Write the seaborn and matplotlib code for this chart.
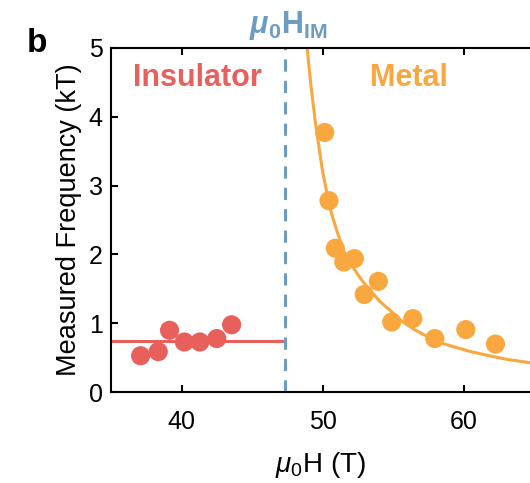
import numpy as np
import pandas as pd
import matplotlib
matplotlib.use('Agg')
import matplotlib.pyplot as plt
import seaborn as sns

# data
ins_field = [37.1, 38.35, 39.15, 40.2, 41.3, 42.5, 43.55]
ins_freq = [0.53, 0.59, 0.90, 0.73, 0.73, 0.78, 0.98]
ins_level = 0.745

met_field = [50.15, 50.45, 50.9, 51.5, 52.25, 52.95, 53.95, 54.9, 56.4, 57.95, 60.15, 62.25]
met_freq = [3.77, 2.78, 2.09, 1.89, 1.94, 1.42, 1.61, 1.02, 1.07, 0.78, 0.91, 0.70]

# fitted curve
fit_field = [48.9, 49.2, 49.5, 50.0, 50.55, 51.0, 51.5, 52.2, 52.8, 53.5, 54.1,
             55.0, 55.5, 56.5, 57.6, 58.5, 59.3, 60.5, 61.6, 63.0, 64.7]
fit_freq = [5.0, 4.4, 3.9, 3.2, 2.65, 2.35, 2.05, 1.8, 1.62, 1.45, 1.31,
            1.15, 1.05, 0.91, 0.79, 0.71, 0.66, 0.59, 0.54, 0.48, 0.43]

h_im = 47.3

red = '#E8605B'
orange = '#F9A73F'
blue = '#6C9CC2'

sns.set_style('ticks')
plt.rcParams['font.family'] = ['Liberation Sans', 'DejaVu Sans']
plt.rcParams['mathtext.fontset'] = 'custom'
plt.rcParams['mathtext.rm'] = 'Liberation Sans'
plt.rcParams['mathtext.it'] = 'Liberation Sans:italic'
plt.rcParams['mathtext.bf'] = 'Liberation Sans:bold'
plt.rcParams['mathtext.bfit'] = 'Liberation Sans:italic:bold'
plt.rcParams['text.color'] = 'black'
plt.rcParams['axes.labelcolor'] = 'black'
plt.rcParams['xtick.color'] = 'black'
plt.rcParams['ytick.color'] = 'black'
plt.rcParams['axes.edgecolor'] = 'black'

fig = plt.figure(figsize=(5.3, 4.83), dpi=100)
ax = fig.add_axes([0.2094, 0.1878, 0.7906, 0.7134])

ins = pd.DataFrame({'H': ins_field, 'F': ins_freq})
met = pd.DataFrame({'H': met_field, 'F': met_freq})
fit = pd.DataFrame({'H': fit_field, 'F': fit_freq})

ax.axhline(ins_level, xmin=0, xmax=(h_im - 35) / (64.7 - 35), color=red, lw=2.2, zorder=1)
ax.axvline(h_im, color=blue, lw=2.2, dashes=(4, 3), zorder=1)
sns.lineplot(data=fit, x='H', y='F', color=orange, lw=2.2, ax=ax, zorder=1)
sns.scatterplot(data=ins, x='H', y='F', color=red, s=190, edgecolor='none', ax=ax, zorder=2)
sns.scatterplot(data=met, x='H', y='F', color=orange, s=190, edgecolor='none', ax=ax, zorder=2)

ax.set_xlim(35, 64.7)
ax.set_ylim(0, 5)
ax.set_xticks([40, 50, 60])
ax.set_yticks([0, 1, 2, 3, 4, 5])
ax.spines['right'].set_visible(False)
for s in ['left', 'top', 'bottom']:
    ax.spines[s].set_linewidth(1.5)
ax.tick_params(direction='in', length=5, width=1.5, labelsize=18,
               top=True, bottom=True, left=True, right=False)
ax.tick_params(axis='x', pad=12.5)
ax.tick_params(axis='y', pad=6)

ax.set_xlabel(r'$\mu_0$H (T)', fontsize=20, labelpad=12)
ax.set_ylabel('Measured Frequency (kT)', fontsize=19.5, labelpad=5)

ax.text(41.1, 4.56, 'Insulator', color=red, fontsize=22, fontweight='bold',
        ha='center', va='center')
ax.text(56.1, 4.56, 'Metal', color=orange, fontsize=22, fontweight='bold',
        ha='center', va='center')
ax.text(47.55, 5.22, r'$\boldsymbol{\mu}_\mathbf{0}\mathbf{H}_\mathbf{IM}$', color=blue,
        fontsize=22, ha='center', va='baseline')
fig.text(0.069, 0.909, 'b', fontsize=24, fontweight='bold', ha='center', va='center')

fig.savefig('out.png', dpi=100)
